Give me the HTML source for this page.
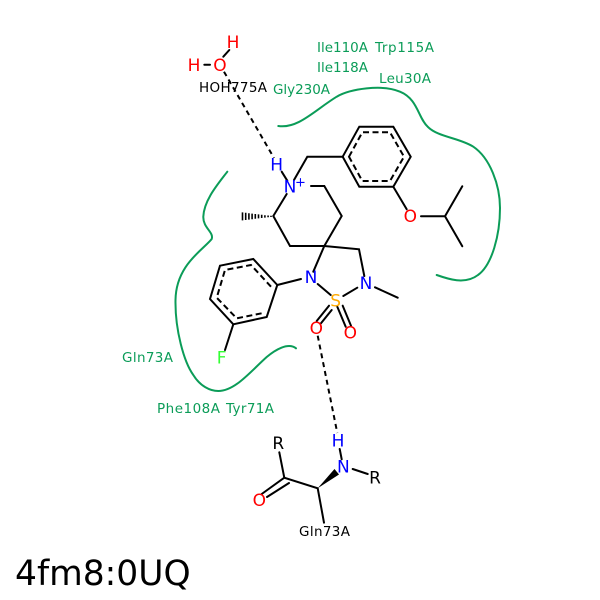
<!DOCTYPE html>
<html><head><meta charset="utf-8"><style>
html,body{margin:0;padding:0;background:#fff}
svg{display:block}
text{font-family:"DejaVu Sans",sans-serif}
.a{font-size:17px;text-anchor:middle;dominant-baseline:central}
.l{font-size:13.5px;fill:#0b9c58}
.k{font-size:13.5px;fill:#000}
</style></head><body>
<svg width="600" height="600" viewBox="0 0 600 600" xmlns="http://www.w3.org/2000/svg">
<rect width="600" height="600" fill="#fff"/>
<g fill="none" stroke="#0b9c58" stroke-width="2" stroke-linecap="round">
<path d="M278.3 126C298 129 315 110 336.7 96.7C350 89 382 84 400 91.7C418 99 418 118 428 127C438 137 460 138 473.3 146.7C490 158 500 185 500 208C500 235 492 265 478 275C465 285 448 279 436.7 275"/>
<path d="M227.3 171.7C218 184 204 200 203.3 216.7C203 228 214 232 211.7 239C203 250 176 265 175.5 300C175 330 184 362 193.3 375C200 386 210 391 218.3 391C235 391 250 372 266.7 357C275 350 288 342 296 348.3"/>
</g>
<g fill="none" stroke="#000" stroke-width="2" stroke-linecap="round">
<path d="M223.3 56.7L229.3 50M204.3 64.7H210"/>
<path d="M281.7 171.7L287.3 180.7M294 180L307.3 156.7H342.7"/>
<path d="M342.7 156.7L359.3 126.7H393.3L410.7 156.7L393.3 186.7H359.3Z"/>
<path d="M393.3 186.7L406.7 209.3M421 216.3H445L462.3 186.3M445 216.3L462.3 246.3"/>
<path d="M311 186H324.3L341.7 216L324.3 246H290L273.3 216L286.7 194"/>
<path d="M324.3 246L359 249.3L364.3 276M375 287.3L397.7 297.7M324.3 246L313.3 271.7M317.7 284L330.7 295M343.3 296L357.3 287.7M301 279L277.3 285"/>
<path d="M277.3 285L253.3 259L220 265.7L210 299L233.3 324.3L266.7 317Z"/>
<path d="M233.3 324.3L225 350"/>
<path d="M329 305.7L316.7 321M331.7 310L321 323.3M337.3 306.7L345.7 326.7M342.7 305.7L351 325.7"/>
<path d="M352.7 469L367.7 474M339.7 449L341.7 459.3M279.3 452.3L284.3 477.7L317.7 488.3L324 522.7M284.3 477.7L261.7 494M289 483L267 497"/>
</g>
<g fill="none" stroke="#000" stroke-width="2" stroke-dasharray="6 3.5">
<path d="M349 156.7L362.3 132.3H390L404 156.7L390 181H362.3Z"/>
<path d="M271 286.7L251 265L225 270L216.7 297.7L236.7 318.3L261.7 313.3"/>
</g>
<g fill="none" stroke="#000" stroke-width="2" stroke-dasharray="5 4">
<path d="M224 71.7L274 158"/>
<path d="M317.7 335.7L337.3 433"/>
</g>
<g stroke="#000" stroke-width="1.6" fill="none">
<path d="M242.5 212.4V220.4M245.7 212.8V220M248.9 213.2V219.6M252.1 213.6V219.2M255.3 214V218.8M258.5 214.4V218.4M261.7 214.8V218M264.9 215.2V217.6M268.1 215.5V217.3M271 215.8V217"/>
</g>
<path d="M317.7 488.3L334.5 469L339 474.5Z" fill="#000"/>
<text class="a" x="233" y="43" fill="#f00">H</text>
<text class="a" x="194" y="66" fill="#f00">H</text>
<text class="a" x="220" y="66" fill="#f00">O</text>
<text class="a" x="276.7" y="165.7" fill="#00f">H</text>
<text class="a" x="290" y="187.7" fill="#00f">N</text>
<text class="a" x="300.5" y="183" fill="#00f" style="font-size:13px">+</text>
<text class="a" x="410.3" y="217" fill="#f00">O</text>
<text class="a" x="311" y="278" fill="#00f">N</text>
<text class="a" x="366" y="284" fill="#00f">N</text>
<text class="a" x="335.7" y="301.7" fill="#fa0">S</text>
<text class="a" x="316.3" y="329" fill="#f00">O</text>
<text class="a" x="350.3" y="333.3" fill="#f00">O</text>
<text class="a" x="221.7" y="358.3" fill="#3f3">F</text>
<text class="a" x="338" y="441.7" fill="#00f">H</text>
<text class="a" x="343.3" y="467.7" fill="#00f">N</text>
<text class="a" x="375" y="478.3" fill="#000">R</text>
<text class="a" x="278.3" y="444" fill="#000">R</text>
<text class="a" x="259.3" y="501" fill="#f00">O</text>
<text class="k" x="199" y="92" textLength="68" lengthAdjust="spacing">HOH775A</text>
<text class="k" x="299" y="536" textLength="51" lengthAdjust="spacing">Gln73A</text>
<text class="l" x="317" y="52" textLength="51" lengthAdjust="spacing">Ile110A</text>
<text class="l" x="375" y="52" textLength="59" lengthAdjust="spacing">Trp115A</text>
<text class="l" x="317" y="72" textLength="51" lengthAdjust="spacing">Ile118A</text>
<text class="l" x="379" y="83" textLength="52" lengthAdjust="spacing">Leu30A</text>
<text class="l" x="273" y="94" textLength="57" lengthAdjust="spacing">Gly230A</text>
<text class="l" x="122" y="362" textLength="51" lengthAdjust="spacing">Gln73A</text>
<text class="l" x="157" y="413" textLength="63" lengthAdjust="spacing">Phe108A</text>
<text class="l" x="226" y="413" textLength="48" lengthAdjust="spacing">Tyr71A</text>
<text x="15" y="585" style="font-size:34.5px" fill="#000">4fm8:0UQ</text>
</svg>
</body></html>
